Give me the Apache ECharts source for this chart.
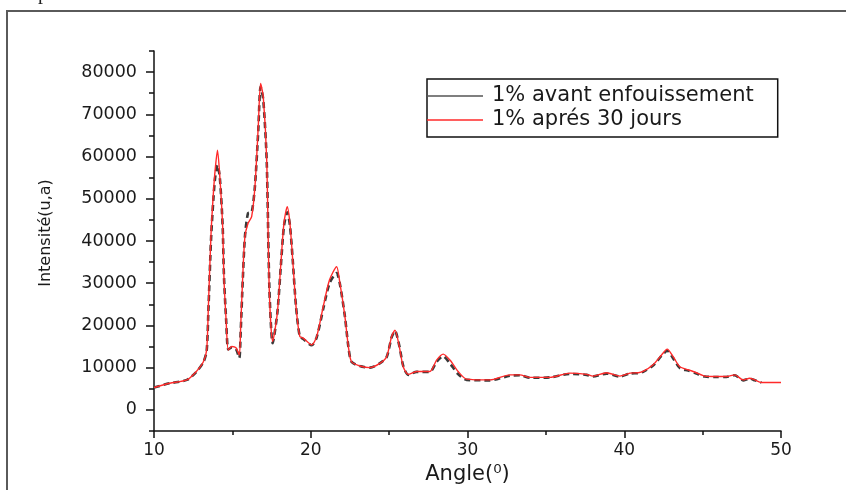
<!DOCTYPE html>
<html>
<head>
<meta charset="utf-8">
<script src="https://cdn.jsdelivr.net/npm/echarts@6/dist/echarts.min.js"></script>
<style>
  html, body { margin: 0; padding: 0; background: #fff; }
  #chart { width: 846px; height: 490px; }
</style>
</head>
<body>
<div id="chart"></div>
<script>
// Diffraction angle (2θ, degrees) sampled along the patterns
const angles = [
  10.0, 11.0, 12.1, 12.7, 13.15, 13.36, 13.47, 13.64, 13.79, 13.9,
  14.05, 14.2, 14.38, 14.46, 14.6, 14.74, 14.96, 15.23, 15.44, 15.53,
  15.66, 15.8, 16.0, 16.23, 16.44, 16.65, 16.8, 16.97, 17.19, 17.36,
  17.57, 17.87, 18.08, 18.29, 18.5, 18.67, 18.85, 19.06, 19.3, 19.52,
  20.06, 20.38, 20.8, 21.2, 21.65, 21.86, 22.18, 22.4, 22.6, 23.13,
  23.78, 24.4, 24.84, 25.16, 25.37, 25.65, 25.9, 26.22, 26.75, 27.6,
  28.03, 28.45, 28.88, 29.4, 29.94, 31.43, 32.7, 33.34, 33.98, 35.26,
  36.53, 37.6, 38.0, 38.87, 39.72, 40.36, 40.89, 41.2, 41.84, 42.38,
  42.74, 43.12, 43.55, 44.08, 44.6, 45.14, 45.88, 46.52, 47.05, 47.58,
  48.0, 48.33, 48.75, 50.0
];

// Intensity before burial (stops at 48.75°)
const avantEnfouissement = [
  5300, 6300, 7100, 9000, 11300, 14000, 23500, 40500, 50000, 55000,
  58000, 55000, 43500, 32000, 21500, 14300, 14800, 14400, 12300, 18500,
  30500, 41000, 46600, 46800, 53000, 66000, 76500, 73500, 59000, 29000,
  15800, 23000, 33500, 43500, 46800, 43800, 35500, 24500, 17400, 16800,
  15300, 17200, 24000, 30000, 32400, 29800, 22100, 15000, 11400, 10400,
  10000, 11000, 12500, 17200, 18700, 15200, 10400, 8300, 9000, 9000,
  11400, 12700, 11000, 8500, 7100, 7000, 8100, 8200, 7600, 7700,
  8500, 8300, 7900, 8600, 7900, 8600, 8700, 9000, 10500, 12800,
  14000, 12200, 9900, 9300, 8600, 7900, 7800, 7800, 8200, 7000,
  7400, 7000, 6500
];

// Intensity after 30 days
const apres30Jours = [
  5300, 6300, 7100, 9100, 11400, 14200, 24500, 41900, 51400, 56800,
  61500, 55200, 43400, 31500, 21300, 14200, 15000, 14700, 13000, 19700,
  31500, 41000, 44200, 45800, 52900, 67000, 77300, 74200, 59200, 27700,
  16200, 23000, 33900, 44200, 48100, 44200, 35500, 24500, 17400, 17000,
  15400, 17400, 24500, 30800, 33900, 30000, 22100, 15000, 11400, 10400,
  10000, 11000, 12600, 17400, 18900, 15000, 10200, 8400, 9100, 9100,
  11800, 13200, 11800, 9100, 7300, 7100, 8300, 8300, 7700, 7700,
  8700, 8400, 8000, 8800, 8000, 8700, 8800, 9100, 10700, 13000,
  14400, 12600, 10200, 9500, 8800, 8000, 7900, 7900, 8300, 7100,
  7500, 7100, 6500, 6500
];

const seriesNames = ['1% avant enfouissement', '1% aprés 30 jours'];
const xTicks = [10, 20, 30, 40, 50];
const yTicks = [0, 10000, 20000, 30000, 40000, 50000, 60000, 70000, 80000];

const FONT = "'DejaVu Sans', 'Liberation Sans', sans-serif";
const INK = '#1a1a1a';
const BLACK_LINE = '#3a3a3a';
const RED_LINE = '#ff2a2a';

const chart = echarts.init(document.getElementById('chart'), null, { renderer: 'canvas' });

chart.setOption({
  animation: false,
  backgroundColor: '#ffffff',
  graphic: [
    // surrounding frame of the figure
    {
      type: 'rect', z: -10, silent: true,
      shape: { x: 7, y: 11, width: 900, height: 600 },
      style: { fill: 'none', stroke: '#5a5a5a', lineWidth: 2 }
    },
    // tail of the caption line above the frame
    {
      type: 'text', z: -10, silent: true, left: 38, top: -16,
      style: { text: 'p', font: "20px 'Liberation Serif', serif", fill: '#222' }
    }
  ],
  grid: { left: 154, right: 65, top: 51, bottom: 59, containLabel: false },
  legend: {
    orient: 'vertical',
    left: 427, top: 79,
    padding: [5, 24, 5, 0],
    icon: 'rect',
    itemWidth: 56, itemHeight: 1.4, itemGap: 0,
    borderColor: '#111', borderWidth: 1.5, backgroundColor: '#fff',
    textStyle: { fontFamily: FONT, fontSize: 21, color: INK, lineHeight: 24, padding: [0, 0, 0, 4] },
    data: [
      { name: seriesNames[0], itemStyle: { color: '#555', borderWidth: 0 } },
      { name: seriesNames[1], itemStyle: { color: RED_LINE, borderWidth: 0 } }
    ]
  },
  xAxis: {
    type: 'value',
    min: xTicks[0], max: xTicks[xTicks.length - 1], interval: 10,
    name: 'Angle(⁰)',
    nameLocation: 'middle', nameGap: 23,
    nameTextStyle: { fontFamily: FONT, fontSize: 21, color: INK },
    axisLine: { show: true, onZero: false, lineStyle: { color: '#111', width: 1.5 } },
    axisTick: { show: true, inside: false, length: 7, lineStyle: { color: '#111', width: 1.5 } },
    minorTick: { show: true, splitNumber: 2, length: 4, lineStyle: { color: '#111', width: 1.5 } },
    axisLabel: { fontFamily: FONT, fontSize: 17, color: INK, margin: 11 },
    splitLine: { show: false }
  },
  yAxis: [
    {
      type: 'value',
      position: 'left',
      min: -5000, max: 85000,
      name: 'Intensité(u,a)',
      nameLocation: 'middle', nameGap: 100, nameRotate: 90,
      nameTextStyle: { fontFamily: FONT, fontSize: 16, color: INK, padding: [0, 0, 0, 16] },
      axisLine: { show: true, onZero: false, lineStyle: { color: '#111', width: 1.5 } },
      axisTick: { show: true, length: 8, customValues: yTicks, lineStyle: { color: '#111', width: 1.5 } },
      axisLabel: {
        fontFamily: FONT, fontSize: 17.5, color: INK, margin: 17,
        customValues: yTicks,
        formatter: (v) => String(v)
      },
      splitLine: { show: false }
    },
    {
      // half-step ticks every 5000
      type: 'value',
      position: 'left',
      offset: 0,
      min: -5000, max: 85000, interval: 5000,
      axisLine: { show: false, onZero: false },
      axisTick: { show: true, length: 5, lineStyle: { color: '#111', width: 1.5 } },
      axisLabel: { show: false },
      splitLine: { show: false }
    }
  ],
  series: [
    {
      name: seriesNames[0],
      type: 'line',
      yAxisIndex: 0,
      symbol: 'none',
      smooth: 0.25,
      z: 2,
      lineStyle: { color: BLACK_LINE, width: 2.6, type: [6, 4] },
      itemStyle: { color: '#555' },
      data: avantEnfouissement.map((v, i) => [angles[i], v])
    },
    {
      name: seriesNames[1],
      type: 'line',
      yAxisIndex: 0,
      symbol: 'none',
      smooth: 0.25,
      z: 3,
      lineStyle: { color: RED_LINE, width: 1.4 },
      itemStyle: { color: RED_LINE },
      data: apres30Jours.map((v, i) => [angles[i], v])
    }
  ]
});
</script>
</body>
</html>
